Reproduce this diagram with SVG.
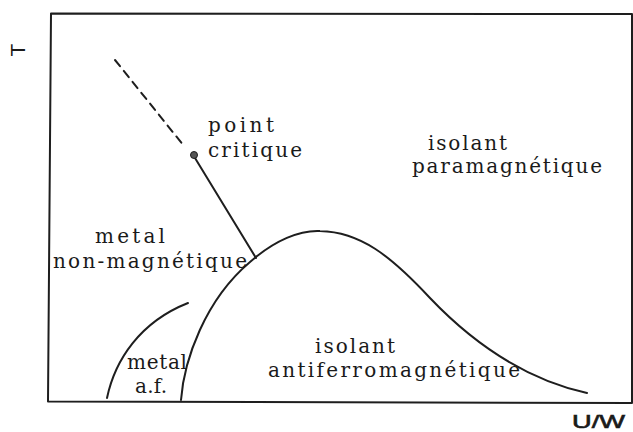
<svg xmlns="http://www.w3.org/2000/svg" width="633" height="432" viewBox="0 0 633 432">
<style>
.ln{fill:none;stroke:#1e1e1e;stroke-width:2;stroke-linecap:round;stroke-linejoin:round}
.lbl{font-family:"DejaVu Serif","Liberation Serif",serif;font-size:20px;fill:#1a1a1a}
.ax{font-family:"Liberation Sans","DejaVu Sans",sans-serif;font-size:18px;fill:#1a1a1a}
</style>
<rect width="633" height="432" fill="#fff"/>
<g id="frame">
<path class="ln" d="M51,13.5 L632,14 L632,403 L48,401.5 Z"/>
<text class="ax" transform="translate(25,50) rotate(-90)" text-anchor="middle" style="font-size:21px" x="0" y="0">T</text>
<text class="ax" x="572" y="428" textLength="53" lengthAdjust="spacingAndGlyphs" stroke="#1a1a1a" stroke-width="0.6">U/W</text>
</g>
<g id="connectors">
<path class="ln" d="M115,60 L184,146" stroke-dasharray="8,6"/>
<path class="ln" d="M195,158 L256,258"/>
<path class="ln" d="M181,400 C184,360 205,300 250,262 C275,240 300,230 320,231 C360,232 390,255 430,298 C470,340 520,378 587,393"/>
<path class="ln" d="M107,398 C115,360 140,322 188,303"/>
</g>
<g id="critical-point">
<circle cx="194" cy="155" r="3.5" fill="#555" stroke="#1e1e1e" stroke-width="1"/>
<text class="lbl" x="208" y="132" textLength="66" lengthAdjust="spacing">point</text>
<text class="lbl" x="208" y="157" textLength="94" lengthAdjust="spacing">critique</text>
</g>
<g id="isolant-para">
<text class="lbl" x="428" y="150" textLength="79" lengthAdjust="spacing">isolant</text>
<text class="lbl" x="412" y="173" textLength="190" lengthAdjust="spacing">paramagnétique</text>
</g>
<g id="metal-nm">
<text class="lbl" x="95" y="243" textLength="70" lengthAdjust="spacing">metal</text>
<text class="lbl" x="53" y="268" textLength="194" lengthAdjust="spacing">non-magnétique</text>
</g>
<g id="metal-af">
<text class="lbl" x="127" y="369" textLength="60" lengthAdjust="spacing">metal</text>
<text class="lbl" x="135" y="393" textLength="32" lengthAdjust="spacing">a.f.</text>
</g>
<g id="isolant-af">
<text class="lbl" x="315" y="353" textLength="80" lengthAdjust="spacing">isolant</text>
<text class="lbl" x="268" y="377" textLength="252" lengthAdjust="spacing">antiferromagnétique</text>
</g>
</svg>
